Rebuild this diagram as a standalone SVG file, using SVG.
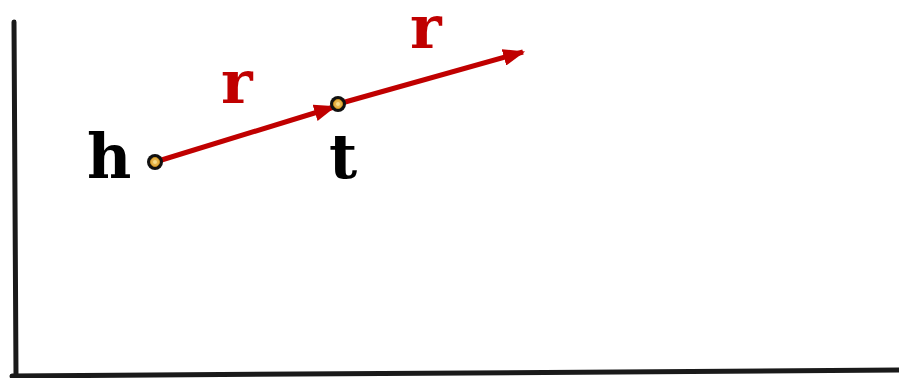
<svg xmlns="http://www.w3.org/2000/svg" width="899" height="378" viewBox="0 0 899 378">
<style>
.ax{stroke:#1a1a1a;stroke-width:5;stroke-linecap:round;fill:none}
.edge{stroke:#c00000;stroke-width:5;fill:none}
.lbl{font-family:"DejaVu Serif",serif;font-weight:bold}
.blk{fill:#000;font-size:61px}
.red{fill:#c00000;font-size:60px}
</style>
<defs>
<marker id="ah" viewBox="0 0 10 10" refX="9" refY="5" markerWidth="4.4" markerHeight="3.4" markerUnits="strokeWidth" orient="auto-start-reverse" preserveAspectRatio="none">
<path d="M0,0 L10,5 L0,10 Z" fill="#c00000"/>
</marker>
</defs>
<g id="axes">
<line class="ax" x1="14" y1="22" x2="16" y2="375"/>
<line class="ax" x1="12" y1="376" x2="899" y2="370"/>
</g>
<g id="connectors">
<line class="edge" x1="155" y1="162" x2="334" y2="107" marker-end="url(#ah)"/>
<line class="edge" x1="338" y1="104" x2="523" y2="52" marker-end="url(#ah)"/>
</g>
<g id="node-h">
<circle cx="155" cy="162" r="8" fill="#111"/>
<circle cx="155" cy="162" r="4.5" fill="#e6b34a" stroke="#c98f1c" stroke-width="1"/>
<circle cx="155" cy="162" r="2" fill="#f7dc8a"/>
<text class="lbl blk" x="87" y="178">h</text>
</g>
<g id="node-t">
<circle cx="338" cy="104" r="8" fill="#111"/>
<circle cx="338" cy="104" r="4.5" fill="#e6b34a" stroke="#c98f1c" stroke-width="1"/>
<circle cx="338" cy="104" r="2" fill="#f7dc8a"/>
<text class="lbl blk" x="329" y="178">t</text>
</g>
<g id="labels">
<text class="lbl red" x="221" y="103">r</text>
<text class="lbl red" x="410" y="48">r</text>
</g>
</svg>
